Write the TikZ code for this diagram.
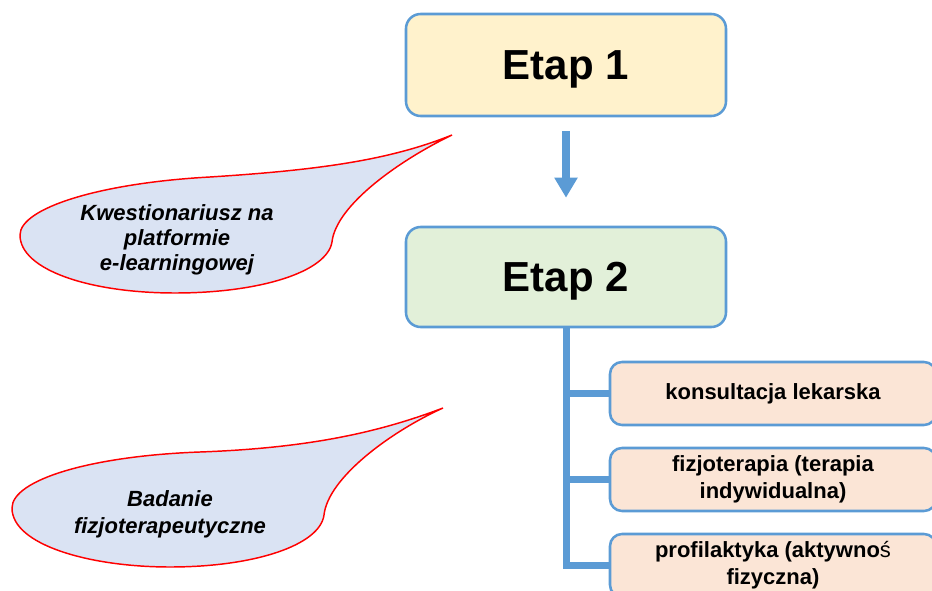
\documentclass[tikz,border=0pt]{standalone}
\usepackage{fontspec}
\setmainfont{Liberation Sans}
\usetikzlibrary{arrows.meta}
\definecolor{bordblue}{HTML}{5B9BD5}
\definecolor{etapone}{HTML}{FFF2CC}
\definecolor{etaptwo}{HTML}{E2F0D9}
\definecolor{subfill}{HTML}{FBE5D6}
\definecolor{callfill}{HTML}{DAE3F3}
\definecolor{callred}{HTML}{FF0000}
\begin{document}
\begin{tikzpicture}[x=0.75pt,y=-0.75pt,
  etapbox/.style={draw=bordblue, line width=1.9pt, rounded corners=11pt,
    minimum width=240pt, font=\fontsize{31.5}{36}\selectfont\bfseries, inner sep=0pt,
    text depth=0pt},
  subbox/.style={draw=bordblue, fill=subfill, line width=1.9pt, rounded corners=9pt,
    minimum width=244.5pt, minimum height=47.25pt, inner sep=0pt,
    align=center, font=\fontsize{16.5}{20.25}\selectfont\bfseries},
  callout/.style={draw=callred, fill=callfill, line width=1.1pt},
  calltext/.style={align=center, inner sep=0pt, font=\fontsize{16.5}{18.75}\selectfont\bfseries\itshape},
  link/.style={draw=bordblue, line width=5.25pt},
]
\useasboundingbox (0,0) rectangle (932,591);
\clip (0,0) rectangle (932,591);

% Callouts
\path[callout] (452,135) .. controls (390,160) and (320,170) .. (210,177)
  .. controls (100,183) and (20,208) .. (20,235)
  .. controls (20,270) and (90,293) .. (175,293)
  .. controls (260,293) and (327,272) .. (332,242)
  .. controls (336,205) and (400,160) .. (452,135) -- cycle;
\path[callout] (443,408) .. controls (380,432) and (310,448) .. (200,452)
  .. controls (90,456) and (12,480) .. (12,508)
  .. controls (12,545) and (90,567) .. (170,567)
  .. controls (255,567) and (320,545) .. (324,515)
  .. controls (328,478) and (390,432) .. (443,408) -- cycle;

\node[calltext] (q1) at (177,240) {Kwestionariusz na\\platformie\\e-learningowej};
\node[calltext, font=\fontsize{16.5}{20.25}\selectfont\bfseries\itshape] (q2) at (170,514) {Badanie\\fizjoterapeutyczne};

% Main boxes
\node[etapbox, fill=etapone, minimum height=76.5pt] (e1) at (566,65) {Etap 1};
\node[etapbox, fill=etaptwo, minimum height=75pt] (e2) at (566,277) {Etap 2};

\draw[bordblue, line width=6pt, shorten <=10.5pt, shorten >=21pt,
  -{Triangle[width=16.5pt,length=15pt]}] (e1.south) -- (e2.north);

% Sub boxes
\node[subbox] (s1) at (773,393.5) {konsultacja lekarska};
\node[subbox] (s2) at (773,479.5) {fizjoterapia (terapia\\indywidualna)};
\node[subbox] (s3) at (773,565.5) {profilaktyka (aktywno{\mdseries ś}\\fizyczna)};

% Connectors
\draw[link, line join=miter] (e2.south) -- (e2.south |- s3.west) -- (s3.west);
\draw[link] (e2.south |- s1.west) -- (s1.west);
\draw[link] (e2.south |- s2.west) -- (s2.west);
\end{tikzpicture}
\end{document}
